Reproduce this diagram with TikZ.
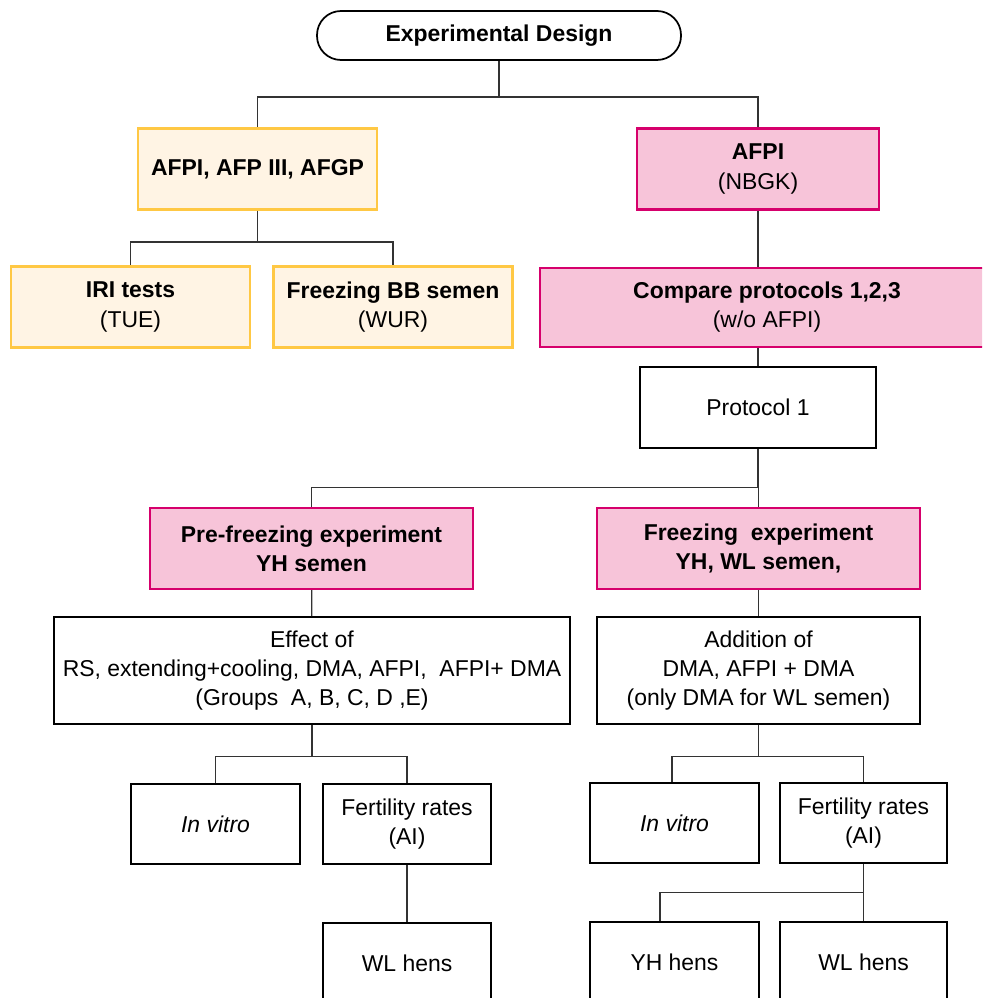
\documentclass[tikz,border=0pt]{standalone}
\usepackage{fontspec}
\setmainfont{Liberation Sans}
\usepackage{tikz}
\usetikzlibrary{positioning}
\definecolor{studyyellow}{RGB}{255,200,68}
\definecolor{studycream}{RGB}{255,244,228}
\definecolor{afpmagenta}{RGB}{214,0,108}
\definecolor{afppink}{RGB}{247,196,217}
\newcommand{\boxfont}{\fontsize{17.2}{21.8}\selectfont}

\begin{document}
\begin{tikzpicture}[
  x=0.75pt,y=-0.75pt,
  title/.style={draw=black,line width=1.3pt,rounded corners=18pt,fill=white,align=center,font=\boxfont\bfseries,minimum width=273pt,minimum height=36.75pt},
  site/.style={draw=studyyellow,line width=1.8pt,fill=studycream,align=center,font=\boxfont\bfseries,minimum width=179pt,minimum height=61pt},
  expt/.style={draw=afpmagenta,line width=1.8pt,fill=afppink,align=center,font=\boxfont\bfseries,minimum height=60.5pt},
  plain/.style={draw=black,line width=1.2pt,fill=white,align=center,font=\boxfont,minimum height=60pt},
  link/.style={line width=1pt,black!80}
]
\useasboundingbox (0,0) rectangle (982,998);
\clip (0,0) rectangle (982,998);

% TOP: design and the two arms
\node[title] (design) at (499,35.5) {Experimental Design};
\node[site] (afps) at (257.5,169) {AFPI, AFP III, AFGP};
\node[expt,minimum width=181.5pt] (afpi) at (758,169) {AFPI\\\mdseries(NBGK)};

\draw[link] (design.south) -- ++(0,36) -| (afps.north);
\draw[link] (design.south) -- ++(0,36) -| (afpi.north);

% LEFT arm: partner labs
\node[site] (iri) at (130.5,307) {IRI tests\\\mdseries(TUE)};
\node[site] (bbsemen) at (393,307) {Freezing BB semen\\\mdseries(WUR)};

\draw[link] (afps.south) -- ++(0,31) -| (iri.north);
\draw[link] (afps.south) -- ++(0,31) -| (bbsemen.north);

% RIGHT arm: protocols
\node[expt,minimum width=340.5pt,minimum height=59.25pt] (compare) at (767,307.5) {Compare protocols 1,2,3\\\mdseries(w/o AFPI)};
\node[plain,minimum width=177pt,minimum height=60.75pt] (prot) at (758,407.5) {Protocol 1};

\draw[link] (afpi.south) -- (afpi.south |- compare.north);
\draw[link] (prot.north |- compare.south) -- (prot.north);

% MIDDLE: the two experiments
\node[expt,minimum width=242.25pt] (prefreeze) at (311.5,548.5) {Pre-freezing experiment\\YH semen};
\node[expt,minimum width=242.25pt] (freeze) at (758.5,548.5) {Freezing\ \ experiment\\YH, WL semen,};

\draw[link] (prot.south) -- ++(0,39) -| (prefreeze.north);
\draw[link] (prot.south) -- ++(0,39) -| (freeze.north);

\node[plain,minimum width=387pt,minimum height=80.25pt] (effect) at (312,670.5) {Effect of\\RS, extending+cooling, DMA, AFPI,\ \ AFPI+ DMA\\(Groups\ \ A, B, C, D ,E)};
\node[plain,minimum width=242.25pt,minimum height=80.25pt] (addition) at (758.5,670.5) {Addition of\\DMA, AFPI + DMA\\(only DMA for WL semen)};

\draw[link] (prefreeze) -- (effect);
\draw[link] (freeze) -- (addition);

% BOTTOM: read-outs
\node[plain,minimum width=126.75pt] (vitroL) at (215.5,824) {\textit{In vitro}};
\node[plain,minimum width=126pt] (fertL) at (407,824) {Fertility rates\\(AI)};
\node[plain,minimum width=126pt] (wlL) at (407,963) {WL hens};

\draw[link] (effect.south) -- ++(0,32) -| (vitroL.north);
\draw[link] (effect.south) -- ++(0,32) -| (fertL.north);
\draw[link] (fertL) -- (wlL);

\node[plain,minimum width=126.75pt] (vitroR) at (674.5,823) {\textit{In vitro}};
\node[plain,minimum width=125.25pt] (fertR) at (863.5,823) {Fertility rates\\(AI)};
\node[plain,minimum width=126.75pt] (yhR) at (674.5,962) {YH hens};
\node[plain,minimum width=125.25pt] (wlR) at (863.5,962) {WL hens};

\draw[link] (addition.south) -- ++(0,32) -| ([xshift=-2pt]vitroR.north);
\draw[link] (addition.south) -- ++(0,32) -| (fertR.north);
\draw[link] (fertR.south) -- ++(0,29) -| ([xshift=-11pt]yhR.north);
\draw[link] (fertR.south) -- ++(0,29) -| (wlR.north);

\end{tikzpicture}
\end{document}
